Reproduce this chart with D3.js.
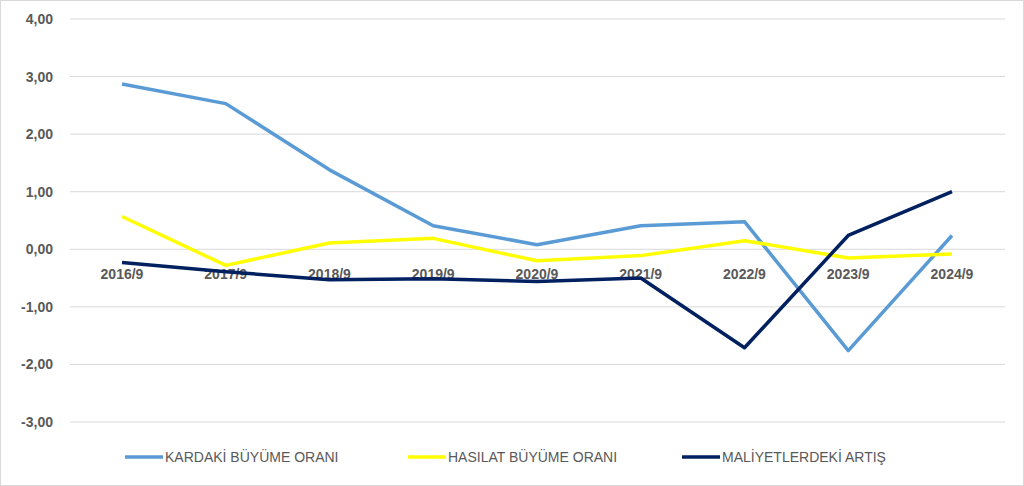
<!DOCTYPE html>
<html><head><meta charset="utf-8">
<script src="https://cdn.jsdelivr.net/npm/d3@7"></script>
<style>body{margin:0;background:#fff}</style>
</head><body>
<svg id="c" width="1024" height="486"></svg>
<script>
const years = ["2016/9","2017/9","2018/9","2019/9","2020/9","2021/9","2022/9","2023/9","2024/9"];
const kar = [2.87,2.53,1.38,0.41,0.08,0.41,0.48,-1.76,0.24];
const has = [0.57,-0.28,0.11,0.19,-0.20,-0.11,0.15,-0.15,-0.08];
const mal = [-0.23,-0.39,-0.53,-0.51,-0.56,-0.50,-1.71,0.24,1.00];
const names = ["KARDAKİ BÜYÜME ORANI","HASILAT BÜYÜME ORANI","MALİYETLERDEKİ ARTIŞ"];
const colors = ["#5B9BD5","#FFFF00","#002060"];
const yTicks = [-3,-2,-1,0,1,2,3,4];

const svg = d3.select("#c");
svg.append("rect").attr("x",0.5).attr("y",0.5).attr("width",1023).attr("height",485)
  .attr("fill","#fff").attr("stroke","#d9d9d9");

const x = d3.scalePoint().domain(years).range([122,952]);
const y = d3.scaleLinear().domain([-3,4]).range([422,19]);
const font = "'Liberation Sans', Arial, sans-serif";

// grid
svg.append("g").selectAll("line").data(yTicks).join("line")
  .attr("x1",70).attr("x2",1005).attr("y1",d=>y(d)).attr("y2",d=>y(d))
  .attr("stroke","#d9d9d9").attr("stroke-width",1);

const fmt = d => d3.format(".2f")(d).replace(".",",").replace("−","-");
svg.append("g").selectAll("text").data(yTicks).join("text")
  .attr("x",53).attr("y",d=>y(d)+5).attr("text-anchor","end")
  .attr("font-family",font).attr("font-size",14).attr("font-weight","bold").attr("fill","#595959")
  .text(fmt);

svg.append("g").selectAll("text").data(years).join("text")
  .attr("x",d=>x(d)).attr("y",y(0)+30).attr("text-anchor","middle")
  .attr("font-family",font).attr("font-size",14).attr("font-weight","bold").attr("fill","#595959")
  .text(d=>d);

const line = d3.line().x((d,i)=>x(years[i])).y(d=>y(d));
[kar,has,mal].forEach((s,i)=>{
  svg.append("path").datum(s).attr("d",line).attr("fill","none")
    .attr("stroke",colors[i]).attr("stroke-width",3.5).attr("stroke-linejoin","round");
});

// legend
const lx = [125,408,682];
names.forEach((n,i)=>{
  svg.append("line").attr("x1",lx[i]).attr("x2",lx[i]+38).attr("y1",457).attr("y2",457)
    .attr("stroke",colors[i]).attr("stroke-width",3.5);
  svg.append("text").attr("x",lx[i]+40).attr("y",462)
    .attr("font-family",font).attr("font-size",14).attr("fill","#595959").text(n);
});
</script>
</body></html>
